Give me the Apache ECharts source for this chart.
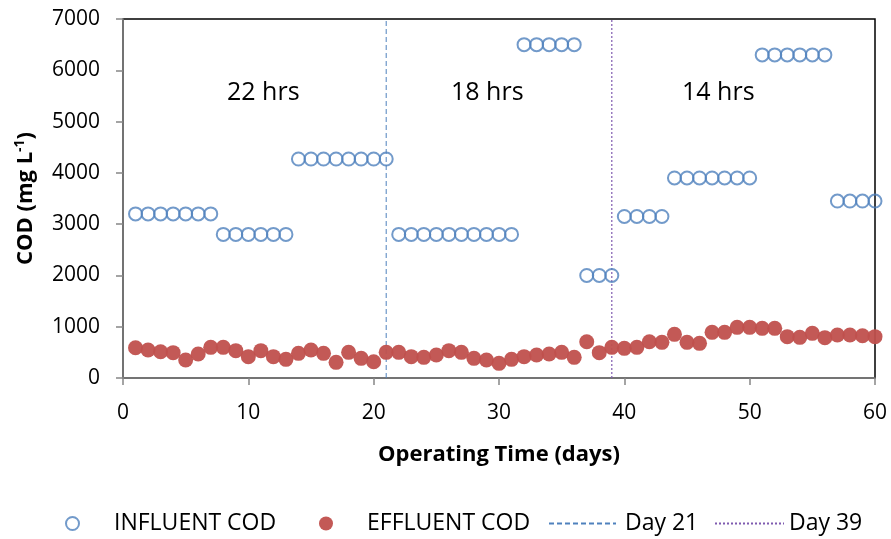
<!DOCTYPE html>
<html>
<head>
<meta charset="utf-8">
<script src="https://cdn.jsdelivr.net/npm/echarts@6/dist/echarts.min.js"></script>
<style>html,body{margin:0;padding:0;background:#fff}#c{width:891px;height:539px}</style>
</head>
<body>
<div id="c"></div>
<script>
const days = Array.from({length: 60}, (_, i) => i + 1);
const influent = [
  3200,3200,3200,3200,3200,3200,3200,
  2800,2800,2800,2800,2800,2800,
  4270,4270,4270,4270,4270,4270,4270,4270,
  2800,2800,2800,2800,2800,2800,2800,2800,2800,2800,
  6500,6500,6500,6500,6500,
  2000,2000,2000,
  3150,3150,3150,3150,
  3900,3900,3900,3900,3900,3900,3900,
  6300,6300,6300,6300,6300,6300,
  3450,3450,3450,3450
];
const effluent = [
  590,546,513,494,351,468,598,598,533,416,
  533,416,364,481,546,481,305,500,383,318,
  500,500,416,403,448,533,500,383,351,286,
  364,416,448,468,500,403,708,494,598,578,
  598,708,695,851,695,676,890,890,988,988,
  968,968,806,793,871,787,838,838,825,806
];
const markerDays = [21, 39];
const periodLabels = ['22 hrs', '18 hrs', '14 hrs'];

const FONT = '"Open Sans", "Noto Sans", sans-serif';
const legendText = {fontSize: 23, color: '#000', fontFamily: FONT};
const LEG_TOP = 512;
const chart = echarts.init(document.getElementById('c'), null, {renderer: 'canvas'});
chart.setOption({
  animation: false,
  backgroundColor: '#fff',
  textStyle: {fontFamily: FONT},
  grid: {left: 123, right: 16, top: 19, bottom: 161, show: true, borderColor: '#000', borderWidth: 1.5, backgroundColor: 'transparent'},
  xAxis: {
    type: 'value', min: 0, max: 60, interval: 10,
    name: 'Operating Time (days)', nameLocation: 'middle', nameGap: 66,
    nameTextStyle: {fontSize: 22, fontWeight: 'bold', color: '#000', fontFamily: FONT},
    axisLine: {show: true, onZero: false, lineStyle: {color: '#868686', width: 1.5}},
    axisTick: {show: true, length: 7, lineStyle: {color: '#868686', width: 1.5}},
    axisLabel: {fontSize: 21, color: '#000', margin: 25, fontFamily: FONT},
    splitLine: {show: false}
  },
  yAxis: {
    type: 'value', min: 0, max: 7000, interval: 1000,
    name: '{b|COD (mg L}{s|-1}{b|)}', nameLocation: 'middle', nameGap: 84, nameRotate: 90,
    nameTextStyle: {rich: {
      b: {fontSize: 22, fontWeight: 'bold', color: '#000', fontFamily: FONT},
      s: {fontSize: 14, fontWeight: 'bold', color: '#000', fontFamily: FONT, verticalAlign: 'top', padding: [0,0,12,0]}
    }},
    axisLine: {show: true, lineStyle: {color: '#868686', width: 1.5}},
    axisTick: {show: true, length: 7, lineStyle: {color: '#868686', width: 1.5}},
    axisLabel: {fontSize: 21, color: '#000', margin: 23, fontFamily: FONT, formatter: v => String(v)},
    splitLine: {show: false}
  },
  legend: [
    {top: LEG_TOP, left: 65, padding: 0, itemWidth: 13, itemHeight: 13, textStyle: Object.assign({padding: [0,0,0,30]}, legendText),
     data: [{name: 'INFLUENT COD', icon: 'circle', itemStyle: {color: 'rgba(255,255,255,0)', borderColor: '#4F81BD', borderWidth: 2}}]},
    {top: LEG_TOP, left: 319, padding: 0, itemWidth: 14, itemHeight: 14, textStyle: Object.assign({padding: [0,0,0,29]}, legendText),
     data: [{name: 'EFFLUENT COD', icon: 'circle', itemStyle: {color: '#C0504D'}}]},
    {top: LEG_TOP, left: 548, padding: 0, itemWidth: 67, itemHeight: 14, textStyle: Object.assign({padding: [0,0,0,4]}, legendText),
     data: [{name: 'Day 21', itemStyle: {opacity: 0, color: 'rgba(0,0,0,0)', borderWidth: 0}}]},
    {top: LEG_TOP, left: 714, padding: 0, itemWidth: 69, itemHeight: 14, textStyle: legendText,
     data: [{name: 'Day 39', itemStyle: {opacity: 0, color: 'rgba(0,0,0,0)', borderWidth: 0}}]}
  ],
  graphic: [
    {type: 'text', left: 227, top: 80, style: {text: periodLabels[0], fontSize: 25, fill: '#000', fontFamily: FONT}},
    {type: 'text', left: 451, top: 80, style: {text: periodLabels[1], fontSize: 25, fill: '#000', fontFamily: FONT}},
    {type: 'text', left: 682, top: 80, style: {text: periodLabels[2], fontSize: 25, fill: '#000', fontFamily: FONT}}
  ],
  series: [
    {
      name: 'Day 21', type: 'line', symbol: 'none', z: 1,
      data: [[markerDays[0], 0], [markerDays[0], 7000]],
      lineStyle: {color: '#4F81BD', width: 1, type: [5, 3]}, itemStyle: {color: '#4F81BD'}
    },
    {
      name: 'Day 39', type: 'line', symbol: 'none', z: 1,
      data: [[markerDays[1], 0], [markerDays[1], 7000]],
      lineStyle: {color: '#7F5BB0', width: 1.2, type: [2, 2]}, itemStyle: {color: '#7F5BB0'}
    },
    {
      name: 'INFLUENT COD', type: 'scatter', symbol: 'circle', symbolSize: 13, z: 3,
      data: days.map((d, i) => [d, influent[i]]),
      itemStyle: {color: 'rgba(255,255,255,0)', borderColor: '#4F81BD', borderWidth: 2}
    },
    {
      name: 'EFFLUENT COD', type: 'scatter', symbol: 'circle', symbolSize: 15, z: 3,
      data: days.map((d, i) => [d, effluent[i]]),
      itemStyle: {color: '#C0504D', opacity: 0.95}
    }
  ]
});
</script>
</body>
</html>
